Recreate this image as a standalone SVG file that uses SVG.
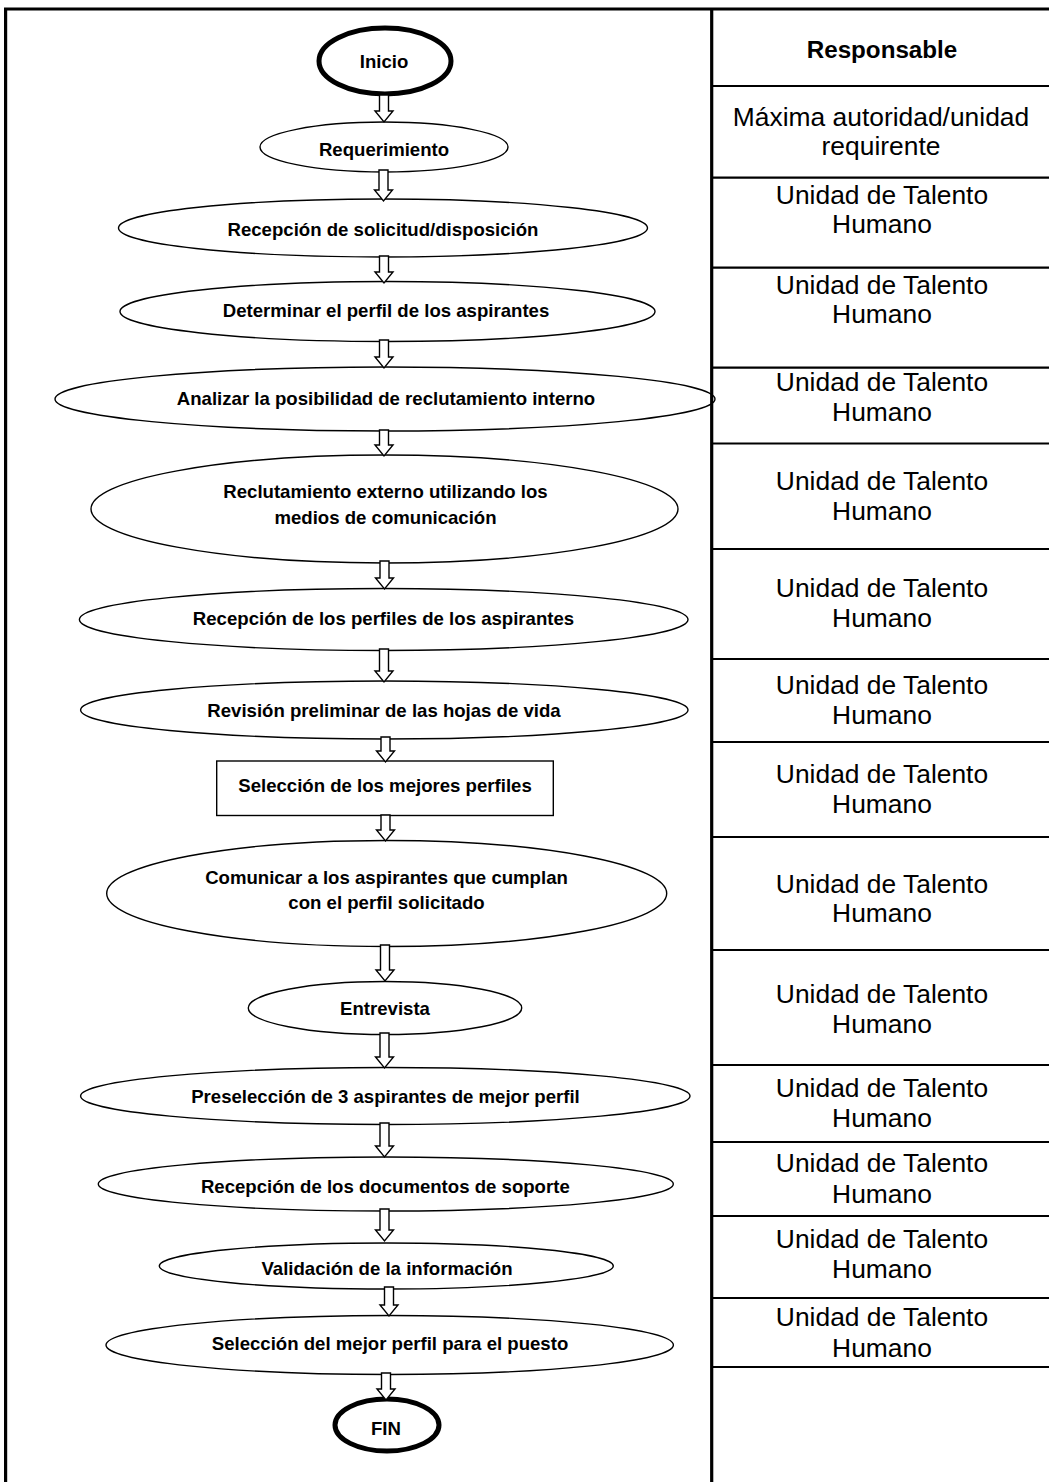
<svg xmlns="http://www.w3.org/2000/svg" width="1049" height="1482" viewBox="0 0 1049 1482">
<defs>
<style>
.bg{fill:#ffffff}
.node{fill:#ffffff;stroke:#000000;stroke-width:1.4}
.term{fill:#ffffff;stroke:#000000;stroke-width:5}
.lbl{font-family:"Liberation Sans",Arial,sans-serif;font-weight:bold;font-size:18.6px;fill:#000000;text-anchor:middle}
.hdr{font-family:"Liberation Sans",Arial,sans-serif;font-weight:bold;font-size:24.2px;fill:#000000;text-anchor:middle}
.resp{font-family:"Liberation Sans",Arial,sans-serif;font-size:26.4px;fill:#000000;text-anchor:middle}
.arrow{fill:#ffffff;stroke:#000000;stroke-width:1.4;stroke-linejoin:miter}
.frame{stroke:#000000;stroke-width:3.2;fill:none}
.row{stroke:#000000;stroke-width:2.2;fill:none}
</style>
</defs>
<rect class="bg" x="0" y="0" width="1049" height="1482"/>

<g id="n-inicio"><ellipse class="term" cx="385" cy="61" rx="66" ry="33"/><text class="lbl" x="384" y="68">Inicio</text></g>
<g id="n-requerimiento"><ellipse class="node" cx="384" cy="147" rx="124" ry="25"/><text class="lbl" x="384" y="156">Requerimiento</text></g>
<g id="n-recepcion-solicitud"><ellipse class="node" cx="383" cy="228" rx="264.5" ry="29"/><text class="lbl" x="383" y="236">Recepción de solicitud/disposición</text></g>
<g id="n-determinar"><ellipse class="node" cx="387.5" cy="311.5" rx="267.5" ry="30"/><text class="lbl" x="386" y="317">Determinar el perfil de los aspirantes</text></g>
<g id="n-analizar"><ellipse class="node" cx="385" cy="399" rx="330" ry="32"/><text class="lbl" x="386" y="405">Analizar la posibilidad de reclutamiento interno</text></g>
<g id="n-reclutamiento"><ellipse class="node" cx="384.5" cy="509" rx="293.5" ry="54"/><text class="lbl" x="385.5" y="498">Reclutamiento externo utilizando los</text><text class="lbl" x="385.5" y="524">medios de comunicación</text></g>
<g id="n-recepcion-perfiles"><ellipse class="node" cx="383.7" cy="619.5" rx="304.3" ry="31"/><text class="lbl" x="383.5" y="625">Recepción de los perfiles de los aspirantes</text></g>
<g id="n-revision"><ellipse class="node" cx="384.3" cy="710" rx="303.7" ry="29"/><text class="lbl" x="384" y="717">Revisión preliminar de las hojas de vida</text></g>
<g id="n-seleccion-mejores"><rect class="node" x="216.7" y="761" width="336.6" height="54.5"/><text class="lbl" x="385" y="792">Selección de los mejores perfiles</text></g>
<g id="n-comunicar"><ellipse class="node" cx="386.7" cy="893.5" rx="280" ry="53"/><text class="lbl" x="386.5" y="884">Comunicar a los aspirantes que cumplan</text><text class="lbl" x="386.5" y="909">con el perfil solicitado</text></g>
<g id="n-entrevista"><ellipse class="node" cx="385" cy="1008" rx="136.7" ry="26.5"/><text class="lbl" x="385" y="1015">Entrevista</text></g>
<g id="n-preseleccion"><ellipse class="node" cx="385.3" cy="1096" rx="304.7" ry="28.5"/><text class="lbl" x="385.5" y="1103">Preselección de 3 aspirantes de mejor perfil</text></g>
<g id="n-recepcion-documentos"><ellipse class="node" cx="385.8" cy="1184" rx="287.5" ry="27"/><text class="lbl" x="385.3" y="1193">Recepción de los documentos de soporte</text></g>
<g id="n-validacion"><ellipse class="node" cx="386.3" cy="1266" rx="227" ry="23"/><text class="lbl" x="387" y="1275">Validación de la información</text></g>
<g id="n-seleccion-final"><ellipse class="node" cx="389.7" cy="1345" rx="283.7" ry="29.5"/><text class="lbl" x="390" y="1350">Selección del mejor perfil para el puesto</text></g>
<g id="n-fin"><ellipse class="term" cx="387" cy="1425" rx="52" ry="26"/><text class="lbl" x="386" y="1435">FIN</text></g>

<g id="connectors">
<polygon class="arrow" points="379.5,95 388.5,95 388.5,111 393,111 384,122 375,111 379.5,111"/>
<polygon class="arrow" points="379,170 388,170 388,190 392.5,190 383.5,201 374.5,190 379,190"/>
<polygon class="arrow" points="379.5,256 388.5,256 388.5,272 393,272 384,283 375,272 379.5,272"/>
<polygon class="arrow" points="379.5,340 388.5,340 388.5,357 393,357 384,368 375,357 379.5,357"/>
<polygon class="arrow" points="379.5,430 388.5,430 388.5,445 393,445 384,456 375,445 379.5,445"/>
<polygon class="arrow" points="380,561 389,561 389,578 393.5,578 384.5,589 375.5,578 380,578"/>
<polygon class="arrow" points="379.5,649 388.5,649 388.5,671 393,671 384,682 375,671 379.5,671"/>
<polygon class="arrow" points="381,737 390,737 390,751 394.5,751 385.5,762 376.5,751 381,751"/>
<polygon class="arrow" points="381,815 390,815 390,830 394.5,830 385.5,841 376.5,830 381,830"/>
<polygon class="arrow" points="380.5,945 389.5,945 389.5,970 394,970 385,981 376,970 380.5,970"/>
<polygon class="arrow" points="380,1033 389,1033 389,1057 393.5,1057 384.5,1068 375.5,1057 380,1057"/>
<polygon class="arrow" points="380,1123 389,1123 389,1146 393.5,1146 384.5,1157 375.5,1146 380,1146"/>
<polygon class="arrow" points="380,1209 389,1209 389,1230 393.5,1230 384.5,1241 375.5,1230 380,1230"/>
<polygon class="arrow" points="384.5,1287 393.5,1287 393.5,1305 398,1305 389,1316 380,1305 384.5,1305"/>
<polygon class="arrow" points="381.5,1373 390.5,1373 390.5,1389 395,1389 386,1400 377,1389 381.5,1389"/>
</g>

<g id="frame">
<line class="frame" x1="4" y1="9" x2="1049" y2="9"/>
<line class="frame" x1="5.6" y1="9" x2="5.6" y2="1482"/>
<line class="frame" x1="711.7" y1="9" x2="711.7" y2="1482"/>
<line class="row" x1="711.7" y1="86" x2="1049" y2="86"/>
<line class="row" x1="711.7" y1="177.7" x2="1049" y2="177.7"/>
<line class="row" x1="711.7" y1="267.7" x2="1049" y2="267.7"/>
<line class="row" x1="711.7" y1="367.7" x2="1049" y2="367.7"/>
<line class="row" x1="711.7" y1="443.5" x2="1049" y2="443.5"/>
<line class="row" x1="711.7" y1="549" x2="1049" y2="549"/>
<line class="row" x1="711.7" y1="659" x2="1049" y2="659"/>
<line class="row" x1="711.7" y1="742" x2="1049" y2="742"/>
<line class="row" x1="711.7" y1="837" x2="1049" y2="837"/>
<line class="row" x1="711.7" y1="950" x2="1049" y2="950"/>
<line class="row" x1="711.7" y1="1065" x2="1049" y2="1065"/>
<line class="row" x1="711.7" y1="1142" x2="1049" y2="1142"/>
<line class="row" x1="711.7" y1="1216" x2="1049" y2="1216"/>
<line class="row" x1="711.7" y1="1298" x2="1049" y2="1298"/>
<line class="row" x1="711.7" y1="1367" x2="1049" y2="1367"/>
</g>

<g id="responsables">
<text class="hdr" x="882" y="57.5">Responsable</text>
<text class="resp" x="881" y="126">Máxima autoridad/unidad</text>
<text class="resp" x="881" y="155">requirente</text>
<text class="resp" x="882" y="204">Unidad de Talento</text><text class="resp" x="882" y="233">Humano</text>
<text class="resp" x="882" y="293.5">Unidad de Talento</text><text class="resp" x="882" y="323">Humano</text>
<text class="resp" x="882" y="390.7">Unidad de Talento</text><text class="resp" x="882" y="420.7">Humano</text>
<text class="resp" x="882" y="490">Unidad de Talento</text><text class="resp" x="882" y="520">Humano</text>
<text class="resp" x="882" y="597">Unidad de Talento</text><text class="resp" x="882" y="627">Humano</text>
<text class="resp" x="882" y="694">Unidad de Talento</text><text class="resp" x="882" y="724">Humano</text>
<text class="resp" x="882" y="783">Unidad de Talento</text><text class="resp" x="882" y="813">Humano</text>
<text class="resp" x="882" y="893">Unidad de Talento</text><text class="resp" x="882" y="922">Humano</text>
<text class="resp" x="882" y="1003">Unidad de Talento</text><text class="resp" x="882" y="1033">Humano</text>
<text class="resp" x="882" y="1097">Unidad de Talento</text><text class="resp" x="882" y="1127">Humano</text>
<text class="resp" x="882" y="1172">Unidad de Talento</text><text class="resp" x="882" y="1203">Humano</text>
<text class="resp" x="882" y="1248">Unidad de Talento</text><text class="resp" x="882" y="1278">Humano</text>
<text class="resp" x="882" y="1326">Unidad de Talento</text><text class="resp" x="882" y="1357">Humano</text>
</g>
</svg>
